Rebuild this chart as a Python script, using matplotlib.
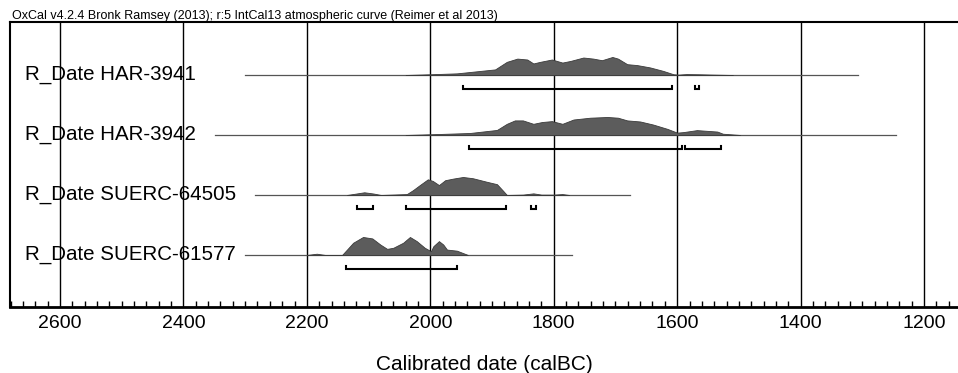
import matplotlib
matplotlib.use("Agg")
import matplotlib.pyplot as plt
from matplotlib.ticker import MultipleLocator

plt.rcParams['font.family'] = ['Liberation Sans', 'DejaVu Sans']

# sample names, top to bottom
names = ['R_Date HAR-3941', 'R_Date HAR-3942', 'R_Date SUERC-64505', 'R_Date SUERC-61577']

# full range of each thin line (calBC)
line_ranges = [(2300, 1307), (2349, 1245), (2284, 1676), (2300, 1770)]

# probability curves (calBC, relative probability)
har3941_years = [2040, 2000, 1957, 1895, 1876, 1859, 1843, 1833, 1822, 1803, 1786, 1773, 1752, 1736,
                 1722, 1705, 1696, 1681, 1665, 1644, 1623, 1606, 1598, 1585, 1565, 1540, 1510]
har3941_prob = [0, .04, .09, .31, .73, .91, .86, .64, .73, .86, .69, .78, .97, .91,
                .82, 1.0, .91, .60, .55, .42, .23, .04, .02, .05, .04, .02, 0]

har3942_years = [2040, 1990, 1936, 1892, 1876, 1863, 1850, 1833, 1819, 1803, 1786, 1768, 1741,
                 1713, 1696, 1681, 1660, 1639, 1616, 1600, 1590, 1568, 1535, 1526, 1498]
har3942_prob = [0, .05, .11, .28, .62, .81, .81, .62, .72, .77, .62, .86, .96,
                1.0, .96, .81, .75, .58, .34, .13, .16, .27, .19, .07, 0]

suerc64505_years = [2135, 2120, 2107, 2092, 2080, 2038, 2028, 2017, 2004, 1996, 1986, 1976, 1963,
                    1947, 1931, 1908, 1892, 1882, 1876, 1850, 1833, 1820, 1800, 1786, 1775]
suerc64505_prob = [0, .08, .15, .08, 0, .05, .27, .55, .87, .78, .55, .82, .91,
                   1.0, .93, .73, .60, .23, 0, .02, .09, .02, .02, .05, 0]

suerc61577_years = [2200, 2184, 2170, 2143, 2135, 2125, 2109, 2094, 2081, 2070, 2060, 2044, 2033,
                    2022, 2009, 1999, 1995, 1986, 1979, 1973, 1957, 1939]
suerc61577_prob = [0, .07, 0, 0, .30, .68, 1.0, .92, .58, .34, .40, .68, 1.0,
                   .77, .40, .21, .49, .77, .58, .30, .24, 0]

curve_years = [har3941_years, har3942_years, suerc64505_years, suerc61577_years]
curve_probs = [har3941_prob, har3942_prob, suerc64505_prob, suerc61577_prob]

# 95.4% ranges
brackets = [
    [(1947, 1608), (1571, 1565)],
    [(1937, 1592), (1587, 1529)],
    [(2119, 2093), (2039, 1877), (1837, 1829)],
    [(2136, 1957)],
]

fig = plt.figure(figsize=(9.58, 3.73), dpi=100)
ax = fig.add_axes([10 / 958, 66 / 373, 948 / 958, 285 / 373])

amp = 0.3      # height of the curve max in row units
brk = 0.235    # bracket offset below the baseline
tick = 0.05

for i in range(len(names)):
    x0, x1 = line_ranges[i]
    ax.plot([x0, x1], [i, i], color='#555555', lw=0.9, zorder=3)
    ys = [i - amp * p for p in curve_probs[i]]
    ax.fill_between(curve_years[i], i, ys, facecolor='#5c5c5c', edgecolor='#3a3a3a',
                    lw=0.6, zorder=4)
    for b0, b1 in brackets[i]:
        yb = i + brk
        ax.plot([b0, b0, b1, b1], [yb - tick, yb, yb, yb - tick], color='black',
                lw=1.5, solid_joinstyle='miter', zorder=5)
    ax.text(15 / 948, i, names[i], transform=ax.get_yaxis_transform(), fontsize=14.8,
            va='center', ha='left', zorder=6)

ax.set_xlim(2681, 1145)
ax.set_ylim(3.867, -0.883)

ax.set_xticks(range(1200, 2601, 200))
ax.xaxis.set_minor_locator(MultipleLocator(20))
ax.grid(axis='x', which='major', color='black', lw=1)
ax.tick_params(axis='x', which='major', length=0, pad=6, labelsize=14)
ax.tick_params(axis='x', which='minor', direction='in', length=4, width=1)
ax.set_yticks([])

ax.spines['right'].set_visible(False)
ax.spines['left'].set_linewidth(1.5)
ax.spines['top'].set_linewidth(1.5)
ax.spines['bottom'].set_linewidth(2)

ax.set_xlabel('Calibrated date (calBC)', fontsize=15, labelpad=16)

fig.text(12 / 958, 1 - 18.5 / 373, 'OxCal v4.2.4 Bronk Ramsey (2013); r:5 IntCal13 atmospheric curve (Reimer et al 2013)',
         fontsize=9.0, va='baseline', ha='left')

fig.savefig('out.png', dpi=100)
